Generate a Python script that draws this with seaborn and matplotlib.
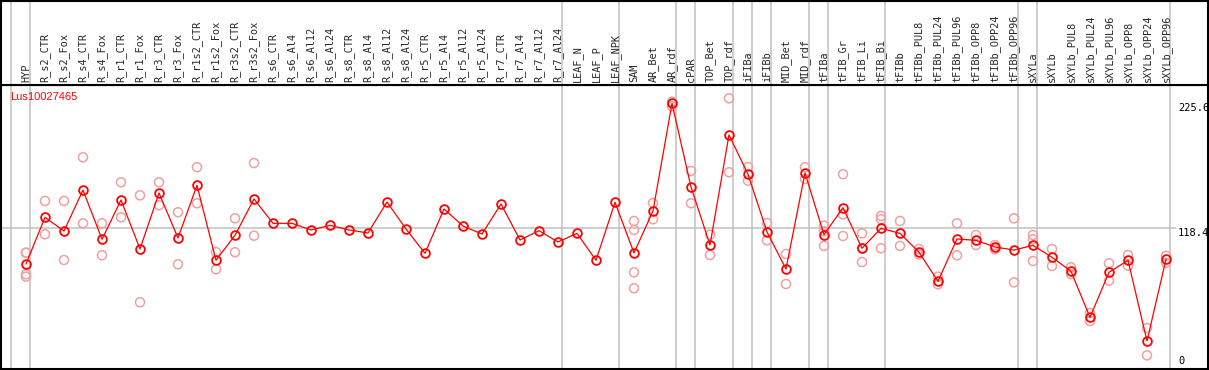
import numpy as np
import pandas as pd
import matplotlib
matplotlib.use("Agg")
import matplotlib.pyplot as plt
import seaborn as sns

gene = "Lus10027465"

samples = ["HYP", "R_s2_CTR", "R_s2_Fox", "R_s4_CTR", "R_s4_Fox", "R_r1_CTR", "R_r1_Fox",
           "R_r3_CTR", "R_r3_Fox", "R_r1s2_CTR", "R_r1s2_Fox", "R_r3s2_CTR", "R_r3s2_Fox",
           "R_s6_CTR", "R_s6_Al4", "R_s6_Al12", "R_s6_Al24", "R_s8_CTR", "R_s8_Al4",
           "R_s8_Al12", "R_s8_Al24", "R_r5_CTR", "R_r5_Al4", "R_r5_Al12", "R_r5_Al24",
           "R_r7_CTR", "R_r7_Al4", "R_r7_Al12", "R_r7_Al24", "LEAF_N", "LEAF_P", "LEAF_NPK",
           "SAM", "AR_Bet", "AR_rdf", "cPAR", "TOP_Bet", "TOP_rdf", "iFIBa", "iFIBb",
           "MID_Bet", "MID_rdf", "tFIBa", "tFIB_Gr", "tFIB_Li", "tFIB_Bi", "tFIBb",
           "tFIBb_PUL8", "tFIBb_PUL24", "tFIBb_PUL96", "tFIBb_OPP8", "tFIBb_OPP24",
           "tFIBb_OPP96", "sXYLa", "sXYLb", "sXYLb_PUL8", "sXYLb_PUL24", "sXYLb_PUL96",
           "sXYLb_OPP8", "sXYLb_OPP24", "sXYLb_OPP96"]

means = [87.8, 127.9, 116.1, 151.2, 109.0, 142.7, 100.7, 148.7, 110.1, 155.3, 91.0, 112.4,
         143.6, 122.7, 122.7, 117.0, 121.0, 117.0, 114.4, 141.0, 117.8, 97.0, 135.0, 120.4,
         113.5, 139.3, 108.4, 116.4, 106.7, 114.1, 91.0, 140.7, 97.3, 133.3, 225.6, 153.9,
         104.1, 198.5, 164.8, 115.3, 83.5, 165.9, 113.0, 136.1, 101.3, 118.4, 114.1, 97.9,
         73.0, 109.3, 108.1, 102.4, 99.8, 103.8, 93.6, 81.6, 42.1, 80.7, 91.0, 21.8, 91.9]

replicates = [
    [97.5, 97.5, 79.0, 77.0], [141.9, 113.3], [141.9, 91.3], [179.3, 122.7], [122.7, 95.3],
    [157.9, 127.9], [146.7, 55.0], [157.9, 138.2], [132.2, 87.6], [170.8, 139.9],
    [98.1, 83.3], [127.0, 97.9], [174.4, 112.1],
    [], [], [], [], [], [], [], [], [], [], [], [], [], [], [], [], [], [], [],
    [124.7, 117.0, 80.7, 67.0], [140.1, 126.2], [223.0, 227.0], [167.6, 139.9],
    [113.0, 95.5], [229.9, 166.5], [171.0, 159.3], [123.0, 108.1], [96.4, 70.7],
    [170.8, 160.7], [120.7, 116.0, 103.3], [164.8, 130.4, 111.8], [114.1, 101.3, 89.5],
    [129.0, 126.2, 101.3], [124.7, 103.3], [100.7, 96.0], [77.0, 70.4], [122.7, 95.3],
    [112.7, 104.1], [104.0, 100.4], [127.0, 72.1], [112.7, 109.0, 90.4], [100.7, 86.1],
    [85.0, 79.2], [45.8, 38.9], [88.4, 73.5], [95.5, 86.4], [32.9, 9.5], [94.9, 88.9],
]

# sample index after which a group separator is drawn (-1 = before the first)
group_ends = [-1, 0, 28, 31, 34, 35, 37, 38, 39, 41, 42, 45, 52, 53, 60]
ref_ticks = [225.6, 118.4, 0]
mid_line = 118.4

pos = np.arange(len(samples))
mean_df = pd.DataFrame({"pos": pos, "value": means})
rep_df = pd.DataFrame([(i, v) for i, vals in enumerate(replicates) for v in vals],
                      columns=["pos", "value"])

sns.set_style("white")
plt.rcParams["font.family"] = ["DejaVu Sans Mono"]

W, H = 1209, 370
fig = plt.figure(figsize=(W / 100, H / 100), dpi=100)
ax = fig.add_axes([1 / W, 1 / H, 1207 / W, 284 / H])
hax = fig.add_axes([1 / W, 285 / H, 1207 / W, 84.5 / H])

xlim = ((1 - 26) / 19, (1208 - 26) / 19)
grid_c = "#c0c0c0"

for a in (ax, hax):
    a.set_xlim(*xlim)
    a.set_xticks([])
    a.set_yticks([])
    for s in a.spines.values():
        s.set_color("black")
        s.set_linewidth(1.5)
    for g in group_ends:
        a.axvline(g + 0.21, color=grid_c, lw=1.1, zorder=0)

ax.set_ylim(-2.2, 241.3)
ax.hlines(mid_line, xlim[0], 60.5, color=grid_c, lw=1.1, zorder=0)

sns.scatterplot(data=rep_df, x="pos", y="value", ax=ax, marker="o", s=42,
                facecolors="none", edgecolor="#f0a0a0", linewidth=1.1, zorder=2)
sns.lineplot(data=mean_df, x="pos", y="value", ax=ax, sort=False, color="red", lw=0.9,
             marker="o", markersize=6.3, markerfacecolor="none", markeredgecolor="red",
             markeredgewidth=1.3, zorder=3)
ax.set_xlabel("")
ax.set_ylabel("")
ax.set_xlim(*xlim)

for v in ref_ticks:
    ax.text((1178 - 26) / 19, v, f"{v:g}", fontsize=7.5, color="black",
            ha="left", va="bottom" if v == 0 else "top", clip_on=True)

for i, name in enumerate(samples):
    hax.text(i, 0.03, name, rotation=90, ha="center", va="bottom", fontsize=7.4)
hax.set_ylim(0, 1)

fig.text(10 / W, 1 - 97 / H, gene, color="red", fontsize=8, va="center",
         family="Liberation Sans")

fig.savefig("out.png", dpi=100)
plt.close(fig)
